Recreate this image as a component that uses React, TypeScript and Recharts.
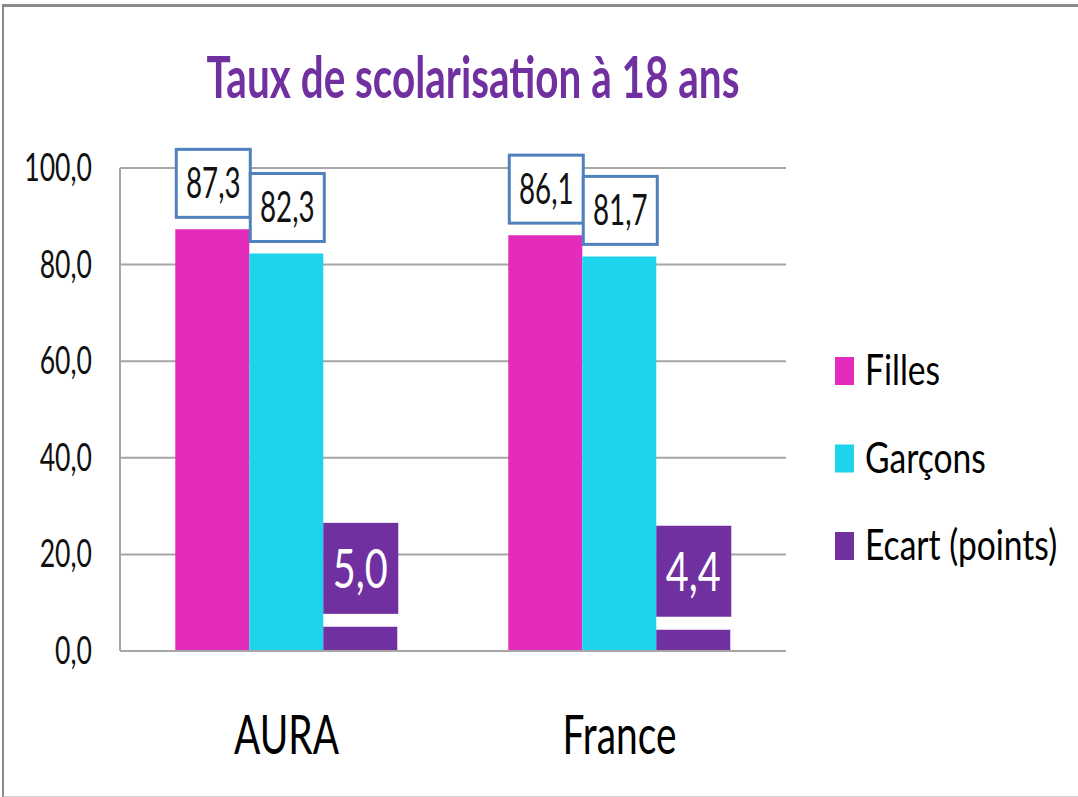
import { BarChart, Bar, XAxis, YAxis, CartesianGrid, Legend, LabelList } from "recharts";

const categories = ["AURA", "France"];
const filles = [87.3, 86.1];
const garcons = [82.3, 81.7];
const ecart = [5.0, 4.4];
const yTicks = [0, 20, 40, 60, 80, 100];
const seriesOrder = ["Filles", "Garçons", "Ecart (points)"];

const data = categories.map((c, i) => ({
  name: c,
  filles: filles[i],
  garcons: garcons[i],
  ecart: ecart[i],
}));

const FONT = "Lato, 'Open Sans', sans-serif";
const PURPLE = "#7030A0";
const fmt = (v: number) => v.toFixed(1).replace(".", ",");

function SText({ x, y, sx, size, anchor = "middle", fill = "#000", weight = 400, children }: any) {
  return (
    <text
      transform={`translate(${x},${y}) scale(${sx},1)`}
      textAnchor={anchor}
      fontFamily={FONT}
      fontSize={size}
      fontWeight={weight}
      fill={fill}
    >
      {children}
    </text>
  );
}

function BoxLabel(props: any) {
  const { x, y, width, value } = props;
  const h = 68;
  const bottom = y - 12;
  return (
    <g>
      <rect x={x + 1} y={bottom - h} width={width} height={h} fill="#fff" stroke="#4F81BD" strokeWidth={3} />
      <SText x={x + width / 2 + 1} y={bottom - h / 2 + 15} sx={0.66} size={42} fill="#111">
        {fmt(value)}
      </SText>
    </g>
  );
}

function EcartLabel(props: any) {
  const { x, y, width, value } = props;
  const h = 91;
  const bottom = y - 13;
  return (
    <g>
      <rect x={x} y={bottom - h} width={width + 1} height={h} fill={PURPLE} />
      <SText x={x + width / 2} y={bottom - h / 2 + 20} sx={0.72} size={55} fill="#fff">
        {fmt(value)}
      </SText>
    </g>
  );
}

function XTick(props: any) {
  const { x, y, payload } = props;
  return (
    <SText x={x} y={y + 97} sx={0.72} size={54} fill="#000">
      {payload.value}
    </SText>
  );
}

function YTick(props: any) {
  const { x, y, payload } = props;
  return (
    <SText x={x - 22} y={y + 13} sx={0.7} size={38} anchor="end" fill="#111">
      {fmt(payload.value)}
    </SText>
  );
}

function LegendBox(props: any) {
  const items = [...(props.payload || [])].sort(
    (a: any, b: any) => seriesOrder.indexOf(a.value) - seriesOrder.indexOf(b.value)
  );
  return (
    <svg width={243} height={270}>
      {items.map((it: any, i: number) => (
        <g key={it.value}>
          <rect x={0} y={27 + i * 87.5} width={19} height={28} fill={it.color} />
          <SText x={30} y={55 + i * 87.5} sx={0.8} size={42} anchor="start" fill="#000">
            {it.value}
          </SText>
        </g>
      ))}
    </svg>
  );
}

export default function App() {
  return (
    <div style={{ position: "absolute", left: 0, top: 0, width: 1078, height: 797, background: "#fff" }}>
      <div
        style={{
          position: "absolute",
          left: 2,
          top: 4,
          width: 1076,
          height: 789,
          borderLeft: "2px solid #8a8a8a",
          borderTop: "3px solid #8a8a8a",
          borderBottom: "2px solid #d0d0d0",
          pointerEvents: "none",
        }}
      />
      <svg style={{ position: "absolute", left: 0, top: 0 }} width={1078} height={120}>
        <SText x={473} y={98} sx={0.71} size={57} weight={700} fill={PURPLE}>
          Taux de scolarisation à 18 ans
        </SText>
      </svg>
      <BarChart
        width={1078}
        height={797}
        data={data}
        margin={{ top: 168, right: 292, bottom: 0, left: 0 }}
        barCategoryGap="16.6%"
        barGap={0}
      >
        <CartesianGrid vertical={false} stroke="#a6a6a6" strokeWidth={2} />
        <XAxis
          dataKey="name"
          height={146}
          tickLine={false}
          tickMargin={0}
          axisLine={{ stroke: "#a6a6a6", strokeWidth: 2 }}
          tick={<XTick />}
        />
        <YAxis
          width={120}
          domain={[0, 100]}
          ticks={yTicks}
          tickLine={false}
          tickMargin={0}
          axisLine={{ stroke: "#a6a6a6", strokeWidth: 2 }}
          tick={<YTick />}
        />
        <Legend
          layout="vertical"
          align="center"
          verticalAlign="middle"
          wrapperStyle={{ left: 835, top: 330, width: 243, height: 270 }}
          content={<LegendBox />}
        />
        <Bar dataKey="filles" name="Filles" fill="#E32BBC" isAnimationActive={false}>
          <LabelList dataKey="filles" content={<BoxLabel />} />
        </Bar>
        <Bar dataKey="garcons" name="Garçons" fill="#1ED4EC" isAnimationActive={false}>
          <LabelList dataKey="garcons" content={<BoxLabel />} />
        </Bar>
        <Bar dataKey="ecart" name="Ecart (points)" fill={PURPLE} isAnimationActive={false}>
          <LabelList dataKey="ecart" content={<EcartLabel />} />
        </Bar>
      </BarChart>
    </div>
  );
}
